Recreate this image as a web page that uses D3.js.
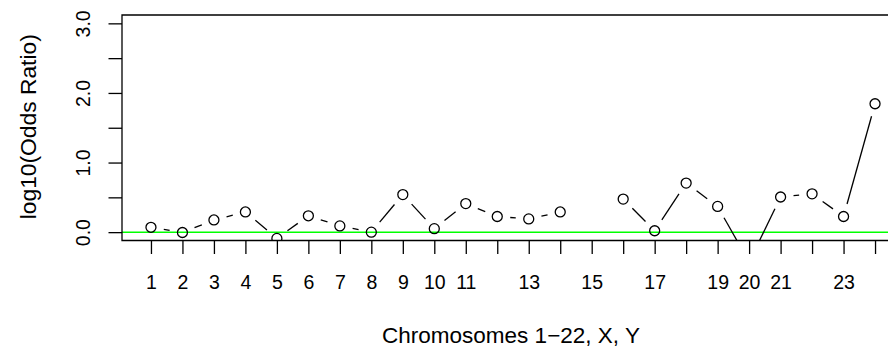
<!DOCTYPE html>
<html>
<head>
<meta charset="utf-8">
<script src="https://cdn.jsdelivr.net/npm/d3@7"></script>
<style>
  body { margin: 0; background: #fff; }
  svg { display: block; font-family: "Liberation Sans", Arial, Helvetica, sans-serif; }
</style>
</head>
<body>
<div id="chart"></div>
<script>
'use strict';

/* chromosome index 1..24 (22 autosomes, X, Y) and log10 odds ratio, null = no value */
var chroms = [1, 2, 3, 4, 5, 6, 7, 8, 9, 10, 11, 12, 13, 14, 15, 16, 17, 18, 19, 20, 21, 22, 23, 24];
var logOR = [0.07, -0.005, 0.175, 0.29, -0.09, 0.235, 0.09, 0.0, 0.54, 0.05, 0.41, 0.225,
             0.19, 0.29, null, 0.475, 0.02, 0.705, 0.37, -0.43, 0.505, 0.55, 0.225, 1.845];
var xTickLabels = ['1', '2', '3', '4', '5', '6', '7', '8', '9', '10', '11', '', '13', '',
                   '15', '', '17', '', '19', '20', '21', '', '23', ''];
var yTicks = [0, 0.5, 1, 1.5, 2, 2.5, 3];
var yTickLabels = ['0.0', '', '1.0', '', '2.0', '', '3.0'];

(function() {
    var width = 888, height = 352;
    var pLeft = 122, pTop = 15, pBottom = 240.5, pRight = 904;
    var font = '"Liberation Sans", Arial, Helvetica, sans-serif';

    var svg = d3.select('#chart').append('svg')
        .attr('width', width)
        .attr('height', height);

    // R style: range 1..24 and 0..3 extended by 4%
    var x = d3.scaleLinear().domain([1 - 0.92, 24 + 0.92]).range([pLeft, pRight]);
    var y = d3.scaleLinear().domain([-0.12, 3.12]).range([pBottom, pTop]);

    svg.append('clipPath').attr('id', 'plotclip')
        .append('rect')
        .attr('x', pLeft).attr('y', pTop)
        .attr('width', pRight - pLeft).attr('height', pBottom - pTop);

    var plot = svg.append('g').attr('clip-path', 'url(#plotclip)');

    // green reference line at 0
    plot.append('line')
        .attr('x1', pLeft).attr('x2', pRight)
        .attr('y1', y(0)).attr('y2', y(0))
        .attr('stroke', '#00ff00')
        .attr('stroke-width', 1.5);

    // type = "b": segments with gaps around the points
    var gap = 13;
    var pts = chroms.map(function(c, i) { return { c: c, v: logOR[i] }; });
    var segs = [];
    for (var i = 0; i < pts.length - 1; i++) {
        var a = pts[i], b = pts[i + 1];
        if (a.v === null || b.v === null) continue;
        var x1 = x(a.c), y1 = y(a.v), x2 = x(b.c), y2 = y(b.v);
        var len = Math.sqrt((x2 - x1) * (x2 - x1) + (y2 - y1) * (y2 - y1));
        if (len <= 2 * gap) continue;
        var ux = (x2 - x1) / len, uy = (y2 - y1) / len;
        segs.push([x1 + ux * gap, y1 + uy * gap, x2 - ux * gap, y2 - uy * gap]);
    }
    plot.selectAll('line.seg').data(segs).enter().append('line')
        .attr('class', 'seg')
        .attr('x1', function(d) { return d[0]; })
        .attr('y1', function(d) { return d[1]; })
        .attr('x2', function(d) { return d[2]; })
        .attr('y2', function(d) { return d[3]; })
        .attr('stroke', '#000')
        .attr('stroke-width', 1.3);

    plot.selectAll('circle').data(pts.filter(function(d) { return d.v !== null; }))
        .enter().append('circle')
        .attr('cx', function(d) { return x(d.c); })
        .attr('cy', function(d) { return y(d.v); })
        .attr('r', 5)
        .attr('fill', 'none')
        .attr('stroke', '#000')
        .attr('stroke-width', 1.3);

    /* box: left, top, bottom (right side is off the page) */
    svg.append('path')
        .attr('d', 'M' + pRight + ',' + pTop + 'H' + pLeft + 'V' + pBottom + 'H' + pRight)
        .attr('fill', 'none')
        .attr('stroke', '#000')
        .attr('stroke-width', 1.3);

    /* x axis */
    var xAxis = d3.axisBottom(x)
        .tickValues(chroms)
        .tickSize(13.5)
        .tickPadding(21.5)
        .tickFormat(function(d, i) { return xTickLabels[i]; });
    var gx = svg.append('g').attr('transform', 'translate(0,' + pBottom + ')').call(xAxis);
    gx.select('.domain').remove();
    gx.selectAll('line').attr('stroke-width', 1.3);
    gx.selectAll('text').attr('font-size', 19.5).attr('fill', '#000')
        .attr('font-family', font);

    /* y axis */
    var yAxis = d3.axisLeft(y)
        .tickValues(yTicks)
        .tickSize(13.5)
        .tickFormat(function(d, i) { return yTickLabels[i]; });
    var gy = svg.append('g').attr('transform', 'translate(' + pLeft + ',0)').call(yAxis);
    gy.select('.domain').remove();
    gy.selectAll('line').attr('stroke-width', 1.3);
    gy.selectAll('text').remove();
    gy.selectAll('g.tick').append('text')
        .attr('transform', 'translate(-32.5,0) rotate(-90)')
        .attr('text-anchor', 'middle')
        .attr('font-size', 19.5)
        .attr('fill', '#000')
        .attr('font-family', font)
        .text(function(d, i) { return yTickLabels[i]; });

    /* axis titles */
    svg.append('text')
        .attr('x', 511)
        .attr('y', 343)
        .attr('text-anchor', 'middle')
        .attr('font-size', 22.5)
        .attr('font-family', font)
        .text('Chromosomes 1\u221222, X, Y');

    svg.append('text')
        .attr('transform', 'translate(36,' + ((pTop + pBottom) / 2 - 1) + ') rotate(-90)')
        .attr('text-anchor', 'middle')
        .attr('font-size', 22.8)
        .attr('font-family', font)
        .text('log10(Odds Ratio)');
})();
</script>
</body>
</html>
